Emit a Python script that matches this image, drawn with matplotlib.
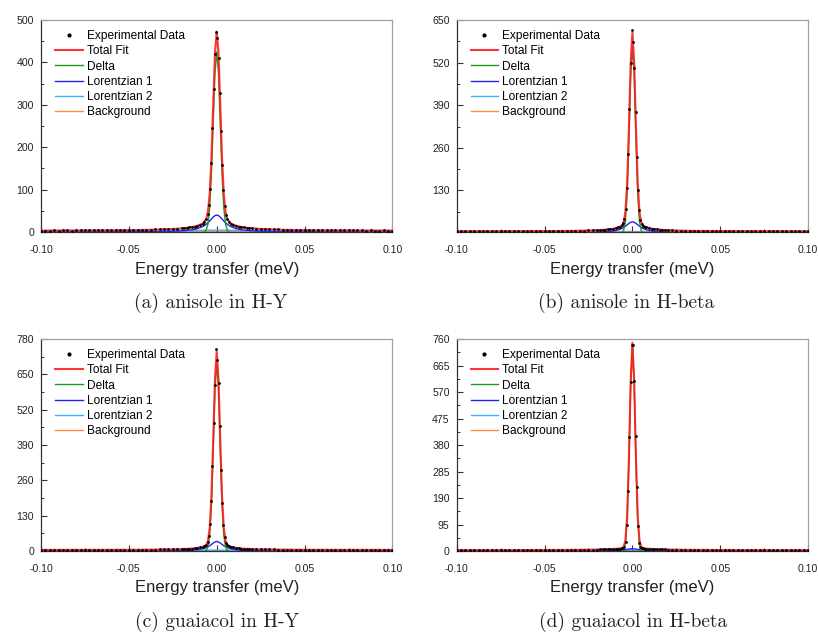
import matplotlib.pyplot as plt
from matplotlib.ticker import MultipleLocator

plt.rcParams['font.family'] = ['Liberation Sans', 'DejaVu Sans']
plt.rcParams['axes.unicode_minus'] = False

# energy grid of the measured points (meV)
energy = [-0.1000, -0.0975, -0.0950, -0.0925, -0.0900, -0.0875, -0.0850, -0.0825, -0.0800, -0.0775,
          -0.0750, -0.0725, -0.0700, -0.0675, -0.0650, -0.0625, -0.0600, -0.0575, -0.0550, -0.0525,
          -0.0500, -0.0475, -0.0450, -0.0425, -0.0400, -0.0375, -0.0350, -0.0325, -0.0300, -0.0275,
          -0.0250, -0.0225, -0.0200,
          -0.0185, -0.0170, -0.0155, -0.0140, -0.0125, -0.0110, -0.0095, -0.0080, -0.0070, -0.0060,
          -0.00525, -0.00455, -0.00385, -0.00315, -0.00245, -0.00175, -0.00105, -0.00035,
          0.00035, 0.00105, 0.00175, 0.00245, 0.00315, 0.00385, 0.00455, 0.00525,
          0.0060, 0.0070, 0.0080, 0.0095, 0.0110, 0.0125, 0.0140, 0.0155, 0.0170, 0.0185,
          0.0200, 0.0225, 0.0250, 0.0275, 0.0300, 0.0325, 0.0350, 0.0375, 0.0400, 0.0425,
          0.0450, 0.0475, 0.0500, 0.0525, 0.0550, 0.0575, 0.0600, 0.0625, 0.0650, 0.0675,
          0.0700, 0.0725, 0.0750, 0.0775, 0.0800, 0.0825, 0.0850, 0.0875, 0.0900, 0.0925,
          0.0950, 0.0975, 0.1000]

# energy grid of the fitted curves
energy_fit = [-0.100, -0.080, -0.060, -0.045, -0.035, -0.028, -0.022, -0.018, -0.014, -0.011,
              -0.008, -0.006, -0.005, -0.004, -0.003, -0.002, -0.001, 0.000, 0.001, 0.002,
              0.003, 0.004, 0.005, 0.006, 0.008, 0.011, 0.014, 0.018, 0.022, 0.028,
              0.035, 0.045, 0.060, 0.080, 0.100]
energy_delta = [-0.007, -0.006, -0.005, -0.004, -0.003, -0.002, -0.001, 0.000,
                0.001, 0.002, 0.003, 0.004, 0.005, 0.006, 0.007]

# (a) anisole in H-Y
anisole_hy_data = [3, 3, 3, 4, 3, 4, 4, 3, 4, 4, 4, 4, 4, 4, 4, 4, 4, 4, 4, 4, 4, 5, 5, 5, 5, 5, 6, 6, 6, 7, 7, 8, 9,
                   9, 10, 11, 12, 13, 15, 17, 20, 24, 31,
                   43, 64, 102, 162, 246, 338, 420, 471,
                   458, 410, 328, 238, 157, 98, 62, 41,
                   30, 23, 20, 17, 15, 13, 12, 11, 10, 9,
                   9, 8, 7, 7, 6, 6, 6, 5, 5, 5, 5, 5, 5, 4, 4, 4, 4, 4, 4, 4, 4, 4, 4, 4, 4, 4, 3, 4, 3, 3, 4, 3, 3]
anisole_hy_total = [3.4, 3.6, 4.0, 4.7, 5.5, 6.5, 7.9, 9.4, 11.8, 14.8, 19.9, 30.3, 47.9, 91.1, 176.2, 300.8, 421.2,
                    472.5,
                    421.2, 300.8, 176.2, 91.1, 47.9, 30.3, 19.9, 14.8, 11.8, 9.4, 7.9, 6.5, 5.5, 4.7, 4.0, 3.6, 3.4]
anisole_hy_lor1 = [0.1, 0.2, 0.3, 0.6, 1.0, 1.5, 2.4, 3.4, 5.4, 8.0, 12.8, 18.3, 21.9, 26.2, 30.8, 35.3, 38.7,
                   40.0,
                   38.7, 35.3, 30.8, 26.2, 21.9, 18.3, 12.8, 8.0, 5.4, 3.4, 2.4, 1.5, 1.0, 0.6, 0.3, 0.2, 0.1]
anisole_hy_lor2 = [0.3, 0.4, 0.7, 1.1, 1.5, 2.0, 2.5, 3.0, 3.4, 3.8, 4.1, 4.3, 4.3, 4.4, 4.4, 4.5, 4.5,
                   4.5,
                   4.5, 4.5, 4.4, 4.4, 4.3, 4.3, 4.1, 3.8, 3.4, 3.0, 2.5, 2.0, 1.5, 1.1, 0.7, 0.4, 0.3]
anisole_hy_delta = [0, 4.7, 18.7, 57.5, 138, 258, 375, 425, 375, 258, 138, 57.5, 18.7, 4.7, 0]

# (b) anisole in H-beta
anisole_hb_data = [5, 5, 5, 5, 6, 5, 5, 5, 5, 5, 5, 6, 5, 5, 5, 6, 6, 6, 6, 6, 6, 6, 6, 6, 6, 6, 6, 7, 7, 7, 8, 8, 9,
                   9, 9, 10, 11, 12, 13, 15, 17, 19, 23,
                   29, 43, 74, 136, 240, 378, 518, 620,
                   582, 505, 368, 232, 131, 71, 41, 28,
                   22, 19, 17, 15, 13, 12, 11, 10, 9, 9,
                   8, 8, 7, 7, 7, 7, 6, 6, 6, 6, 6, 6, 6, 6, 6, 6, 5, 6, 5, 5, 5, 5, 5, 5, 5, 5, 5, 5, 5, 5, 5, 5, 5]
anisole_hb_total = [5.2, 5.3, 5.5, 5.9, 6.4, 7.0, 8.0, 9.1, 10.9, 13.1, 17.1, 22.8, 32.3, 64.4, 152.9, 322.3, 519.7,
                    612.0,
                    519.7, 322.3, 152.9, 64.4, 32.3, 22.8, 17.1, 13.1, 10.9, 9.1, 8.0, 7.0, 6.4, 5.9, 5.5, 5.3, 5.2]
anisole_hb_lor1 = [0.1, 0.1, 0.2, 0.4, 0.7, 1.1, 1.7, 2.4, 3.9, 5.8, 9.6, 13.9, 17.0, 20.7, 25.0, 29.3, 32.7,
                   34.0,
                   32.7, 29.3, 25.0, 20.7, 17.0, 13.9, 9.6, 5.8, 3.9, 2.4, 1.7, 1.1, 0.7, 0.4, 0.2, 0.1, 0.1]
anisole_hb_lor2 = [0.1, 0.2, 0.3, 0.5, 0.7, 1.0, 1.4, 1.7, 2.0, 2.3, 2.6, 2.8, 2.8, 2.9, 2.9, 3.0, 3.0,
                   3.0,
                   3.0, 3.0, 2.9, 2.9, 2.8, 2.8, 2.6, 2.3, 2.0, 1.7, 1.4, 1.0, 0.7, 0.5, 0.3, 0.2, 0.1]
anisole_hb_delta = [0, 1.1, 7.5, 35.8, 120, 285, 479, 570, 479, 285, 120, 35.8, 7.5, 1.1, 0]

# (c) guaiacol in H-Y
guaiacol_hy_data = [4, 4, 4, 4, 4, 4, 4, 4, 4, 4, 4, 5, 4, 4, 5, 5, 5, 5, 5, 5, 5, 5, 5, 5, 5, 5, 5, 6, 6, 6, 6, 7, 7,
                    8, 8, 9, 9, 10, 11, 13, 15, 17, 22,
                    32, 54, 100, 184, 312, 470, 612, 744,
                    702, 618, 460, 300, 176, 95, 51, 31,
                    22, 17, 15, 13, 11, 10, 9, 9, 8, 8,
                    7, 7, 6, 6, 6, 6, 5, 5, 5, 5, 5, 5, 5, 5, 5, 5, 5, 5, 4, 4, 4, 4, 4, 4, 4, 4, 4, 4, 4, 4, 4, 4, 4]
guaiacol_hy_total = [4.2, 4.3, 4.5, 4.8, 5.3, 5.9, 6.8, 7.7, 9.3, 11.3, 15.0, 22.1, 37.1, 85.1, 203.7, 409.2, 633.4,
                     734.0,
                     633.4, 409.2, 203.7, 85.1, 37.1, 22.1, 15.0, 11.3, 9.3, 7.7, 6.8, 5.9, 5.3, 4.8, 4.5, 4.3, 4.2]
guaiacol_hy_lor1 = [0.1, 0.1, 0.2, 0.4, 0.6, 0.9, 1.4, 2.1, 3.3, 5.0, 8.4, 12.6, 15.7, 19.6, 24.2, 29.2, 33.4,
                    35.0,
                    33.4, 29.2, 24.2, 19.6, 15.7, 12.6, 8.4, 5.0, 3.3, 2.1, 1.4, 0.9, 0.6, 0.4, 0.2, 0.1, 0.1]
guaiacol_hy_lor2 = [0.1, 0.2, 0.3, 0.5, 0.7, 1.0, 1.4, 1.7, 2.0, 2.3, 2.6, 2.8, 2.8, 2.9, 2.9, 3.0, 3.0,
                    3.0,
                    3.0, 3.0, 2.9, 2.9, 2.8, 2.8, 2.6, 2.3, 2.0, 1.7, 1.4, 1.0, 0.7, 0.5, 0.3, 0.2, 0.1]
guaiacol_hy_delta = [0, 2.7, 14.6, 58.6, 172.6, 373, 593, 692, 593, 373, 172.6, 58.6, 14.6, 2.7, 0]

# (d) guaiacol in H-beta
guaiacol_hb_data = [3, 3, 3, 3, 3, 3, 3, 3, 3, 3, 3, 3, 3, 3, 3, 3, 3, 4, 4, 4, 4, 4, 4, 4, 4, 4, 4, 4, 4, 5, 5, 5, 5,
                    6, 6, 6, 7, 7, 7, 8, 9, 9, 10,
                    12, 15, 31, 93, 215, 410, 607, 739,
                    739, 611, 412, 228, 90, 30, 14, 11,
                    10, 9, 9, 8, 7, 7, 7, 6, 6, 6,
                    5, 5, 5, 5, 4, 4, 4, 4, 4, 4, 4, 4, 4, 4, 4, 4, 3, 3, 3, 3, 3, 3, 3, 3, 3, 3, 3, 3, 3, 3, 3, 3, 3]
guaiacol_hb_total = [3.2, 3.3, 3.5, 3.8, 4.2, 4.6, 5.2, 5.8, 6.6, 7.4, 8.7, 10.4, 14.8, 38.0, 125.3, 332.3, 609.2,
                     747.0,
                     609.2, 332.3, 125.3, 38.0, 14.8, 10.4, 8.7, 7.4, 6.6, 5.8, 5.2, 4.6, 4.2, 3.8, 3.5, 3.3, 3.2]
guaiacol_hb_lor1 = [0.0, 0.0, 0.1, 0.1, 0.2, 0.3, 0.4, 0.6, 0.9, 1.4, 2.3, 3.3, 4.0, 4.9, 5.9, 6.9, 7.7,
                    8.0,
                    7.7, 6.9, 5.9, 4.9, 4.0, 3.3, 2.3, 1.4, 0.9, 0.6, 0.4, 0.3, 0.2, 0.1, 0.1, 0.0, 0.0]
guaiacol_hb_lor2 = [0.2, 0.2, 0.4, 0.7, 1.0, 1.3, 1.8, 2.2, 2.7, 3.1, 3.5, 3.7, 3.8, 3.9, 3.9, 4.0, 4.0,
                    4.0,
                    4.0, 4.0, 3.9, 3.9, 3.8, 3.7, 3.5, 3.1, 2.7, 2.2, 1.8, 1.3, 1.0, 0.7, 0.4, 0.2, 0.2]
guaiacol_hb_delta = [0, 0.4, 4.0, 26.2, 112.5, 318.4, 594.5, 732, 594.5, 318.4, 112.5, 26.2, 4.0, 0.4, 0]

background = [3, 5, 4, 3]
y_limits = [(0, 500), (3, 650), (0, 780), (0, 760)]
y_ticks = [[0, 100, 200, 300, 400, 500],
           [130, 260, 390, 520, 650],
           [0, 130, 260, 390, 520, 650, 780],
           [0, 95, 190, 285, 380, 475, 570, 665, 760]]
captions = ['(a) anisole in H-Y', '(b) anisole in H-beta',
            '(c) guaiacol in H-Y', '(d) guaiacol in H-beta']


def draw_panel(ax, data, total, delta, lor1, lor2, bg, ylim, yticks):
    ax.plot(energy, data, 'o', color='black', ms=2.0, mew=0, zorder=6, label='Experimental Data')
    ax.plot(energy_fit, total, color='#ff1e1e', lw=1.5, alpha=0.9, zorder=5, label='Total Fit')
    ax.plot(energy_delta, delta, color='#1e9a1e', lw=1.0, zorder=4, label='Delta')
    ax.plot(energy_fit, lor1, color='#2323f0', lw=1.0, zorder=3, label='Lorentzian 1')
    ax.plot(energy_fit, lor2, color='#3cb2ff', lw=1.0, zorder=2, label='Lorentzian 2')
    ax.plot([energy[0], energy[-1]], [bg, bg], color='#ff8c42', lw=1.0, zorder=1, label='Background')

    ax.set_xlim(-0.1, 0.1)
    ax.set_ylim(*ylim)
    ax.set_xticks([-0.10, -0.05, 0.00, 0.05, 0.10])
    ax.set_xticklabels(['-0.10', '-0.05', '0.00', '0.05', '0.10'])
    ax.set_yticks(yticks)
    ax.xaxis.set_minor_locator(MultipleLocator(0.025))
    ax.yaxis.set_minor_locator(MultipleLocator((yticks[1] - yticks[0]) / 2))
    ax.tick_params(which='both', direction='in', top=False, right=False,
                   labelsize=7.6, color='#333333', labelcolor='#222222')
    ax.tick_params(which='major', length=4, width=0.8)
    ax.tick_params(which='minor', length=2.5, width=0.7)
    ax.tick_params(axis='x', pad=9)
    ax.tick_params(axis='y', pad=5)
    for side in ['left', 'bottom']:
        ax.spines[side].set_color('#333333')
        ax.spines[side].set_linewidth(0.9)
    for side in ['top', 'right']:
        ax.spines[side].set_color('#a0a0a0')
        ax.spines[side].set_linewidth(0.9)

    ax.legend(loc='upper left', bbox_to_anchor=(0.04, 0.952), frameon=False, fontsize=8.6,
              handlelength=2.3, handletextpad=0.35, labelspacing=0.27, borderpad=0,
              borderaxespad=0, numpoints=1, markerscale=1.5)


fig = plt.figure(figsize=(8.18, 6.36), dpi=100)

rects = [[0.0501, 0.6352, 0.4297, 0.3333],
         [0.5583, 0.6352, 0.4297, 0.3333],
         [0.0501, 0.1336, 0.4297, 0.3333],
         [0.5583, 0.1336, 0.4297, 0.3333]]

panels = [
    (anisole_hy_data, anisole_hy_total, anisole_hy_delta, anisole_hy_lor1, anisole_hy_lor2),
    (anisole_hb_data, anisole_hb_total, anisole_hb_delta, anisole_hb_lor1, anisole_hb_lor2),
    (guaiacol_hy_data, guaiacol_hy_total, guaiacol_hy_delta, guaiacol_hy_lor1, guaiacol_hy_lor2),
    (guaiacol_hb_data, guaiacol_hb_total, guaiacol_hb_delta, guaiacol_hb_lor1, guaiacol_hb_lor2),
]

label_y = [0.577, 0.577, 0.0755, 0.0755]
caption_y = [0.524, 0.524, 0.0215, 0.0215]
caption_x = [211 / 818, 626 / 818, 217 / 818, 633 / 818]

for i, (data, total, delta, lor1, lor2) in enumerate(panels):
    ax = fig.add_axes(rects[i])
    draw_panel(ax, data, total, delta, lor1, lor2, background[i], y_limits[i], y_ticks[i])
    cx = rects[i][0] + rects[i][2] / 2
    fig.text(cx, label_y[i], 'Energy transfer (meV)', ha='center', va='center',
             fontsize=12, color='#222222')
    fig.text(caption_x[i], caption_y[i], captions[i], ha='center', va='center',
             fontsize=14, family='cmr10', color='#222222')

fig.savefig('out.png', dpi=100)
